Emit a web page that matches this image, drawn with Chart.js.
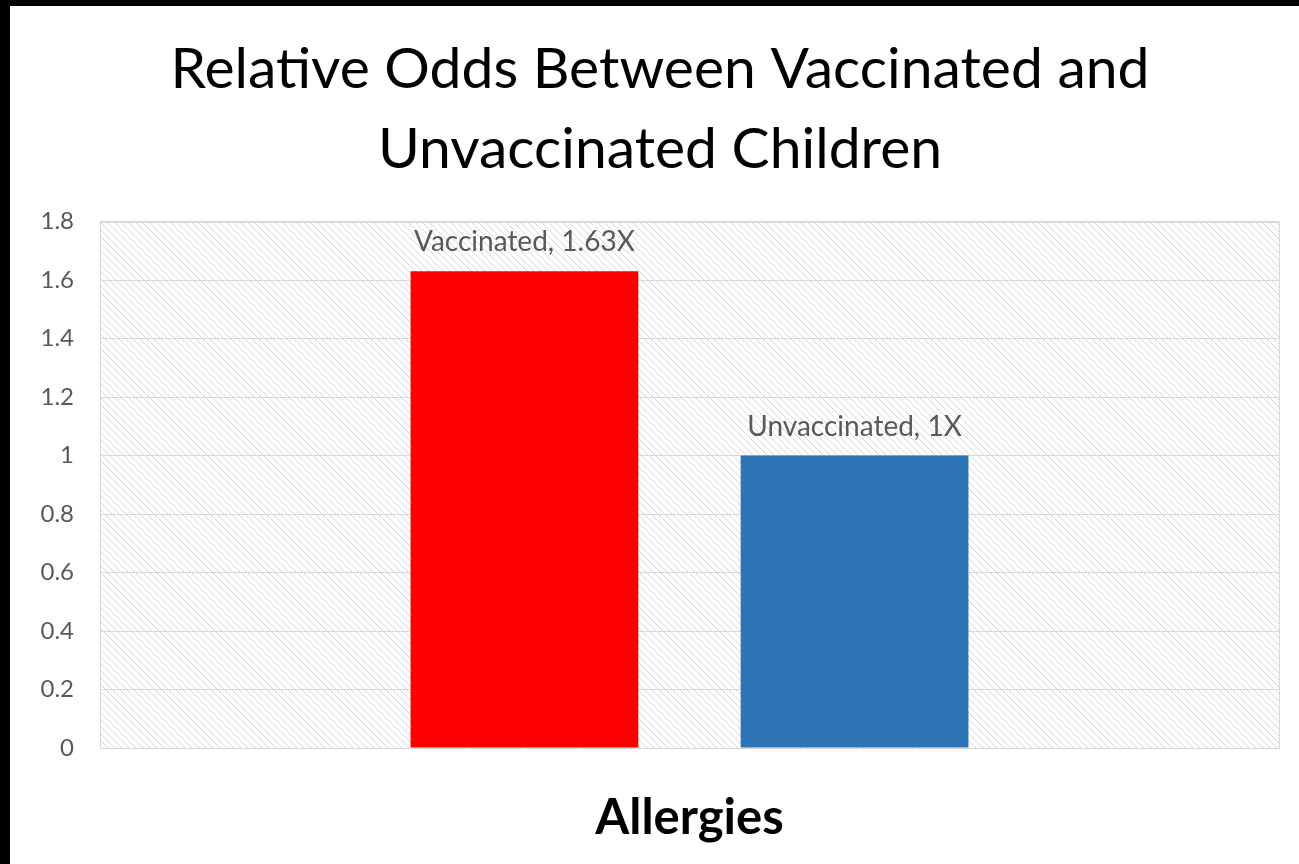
<!DOCTYPE html>
<html>
<head>
<meta charset="utf-8">
<script src="https://cdn.jsdelivr.net/npm/chart.js@4.4.0/dist/chart.umd.min.js"></script>
<style>
  html, body { margin: 0; padding: 0; background: #000; overflow: hidden; }
  #wrap { position: absolute; left: 10px; top: 6px; width: 1300px; height: 858px; background: #fff; }
</style>
</head>
<body>
<div id="wrap"><canvas id="oddsChart"></canvas></div>
<script>
// chart data
const categories = ['Allergies'];
const seriesNames = ['Vaccinated', 'Unvaccinated'];
const vaccinatedValues = [1.63];
const unvaccinatedValues = [1];
const barLabels = ['Vaccinated, 1.63X', 'Unvaccinated, 1X'];
const titleLines = ['Relative Odds Between Vaccinated and', 'Unvaccinated Children'];
const yMin = 0;
const yMax = 1.8;
const yStep = 0.2;

const FONT = "Lato, 'Open Sans', sans-serif";

// diagonal hatch fill for the plot area
function makeHatch() {
    const size = 7;
    const c = document.createElement('canvas');
    c.width = size;
    c.height = size;
    const g = c.getContext('2d');
    g.fillStyle = '#ffffff';
    g.fillRect(0, 0, size, size);
    g.strokeStyle = '#d6d6d6';
    g.lineWidth = 1;
    g.beginPath();
    g.moveTo(-1, -1); g.lineTo(size + 1, size + 1);
    g.moveTo(-1, size - 1); g.lineTo(1, size + 1);
    g.moveTo(size - 1, -1); g.lineTo(size + 1, 1);
    g.stroke();
    return c;
}

const hatchPlugin = {
    id: 'hatchBackground',
    beforeDraw(chart) {
        const { ctx, chartArea: a } = chart;
        ctx.save();
        ctx.fillStyle = ctx.createPattern(makeHatch(), 'repeat');
        ctx.fillRect(a.left, a.top, a.right - a.left, a.bottom - a.top);
        ctx.restore();
    },
    afterDraw(chart) {
        const { ctx, chartArea: a } = chart;
        ctx.save();
        ctx.strokeStyle = '#d9d9d9';
        ctx.lineWidth = 1;
        ctx.strokeRect(Math.round(a.left) + 0.5, Math.round(a.top) + 0.5,
            Math.round(a.right - a.left), Math.round(a.bottom - a.top));
        ctx.restore();
    }
};

// text labels above each bar
const barLabelPlugin = {
    id: 'barLabels',
    afterDatasetsDraw(chart) {
        const ctx = chart.ctx;
        ctx.save();
        ctx.font = '28px ' + FONT;
        ctx.fillStyle = '#595959';
        ctx.textAlign = 'center';
        ctx.textBaseline = 'middle';
        chart.data.datasets.forEach((ds, i) => {
            const bar = chart.getDatasetMeta(i).data[0];
            ctx.fillText(barLabels[i], bar.x, bar.y - 29);
        });
        ctx.restore();
    }
};

const ctx = document.getElementById('oddsChart').getContext('2d');

const oddsChart = new Chart(ctx, {
    type: 'bar',
    data: {
        labels: categories,
        datasets: [{
            label: seriesNames[0],
            data: vaccinatedValues,
            backgroundColor: '#ff0000'
        }, {
            label: seriesNames[1],
            data: unvaccinatedValues,
            backgroundColor: '#2e75b6'
        }]
    },
    options: {
        responsive: true,
        maintainAspectRatio: false,
        animation: false,
        layout: {
            padding: { left: 31, right: 31, top: 0, bottom: 0 }
        },
        categoryPercentage: 0.56,
        barPercentage: 0.69,
        plugins: {
            legend: { display: false },
            tooltip: { enabled: false },
            title: {
                display: true,
                text: titleLines,
                color: '#000000',
                font: { family: FONT, size: 57, weight: 'normal', lineHeight: 1.4 },
                padding: { top: 24, bottom: 32 }
            }
        },
        scales: {
            y: {
                min: yMin,
                max: yMax,
                afterFit: function(scale) { scale.width = 59; },
                ticks: {
                    stepSize: yStep,
                    padding: 26,
                    color: '#595959',
                    font: { family: FONT, size: 24 },
                    callback: function(value) {
                        return parseFloat(value.toFixed(1)).toString();
                    }
                },
                grid: { color: '#d9d9d9', drawTicks: false },
                border: { display: false }
            },
            x: {
                afterFit: function(scale) { scale.height = 116; },
                ticks: {
                    padding: 41,
                    color: '#000000',
                    font: { family: FONT, size: 49, weight: 'bold' }
                },
                grid: { display: false, drawTicks: false },
                border: { display: false }
            }
        }
    },
    plugins: [hatchPlugin, barLabelPlugin]
});
</script>
</body>
</html>
